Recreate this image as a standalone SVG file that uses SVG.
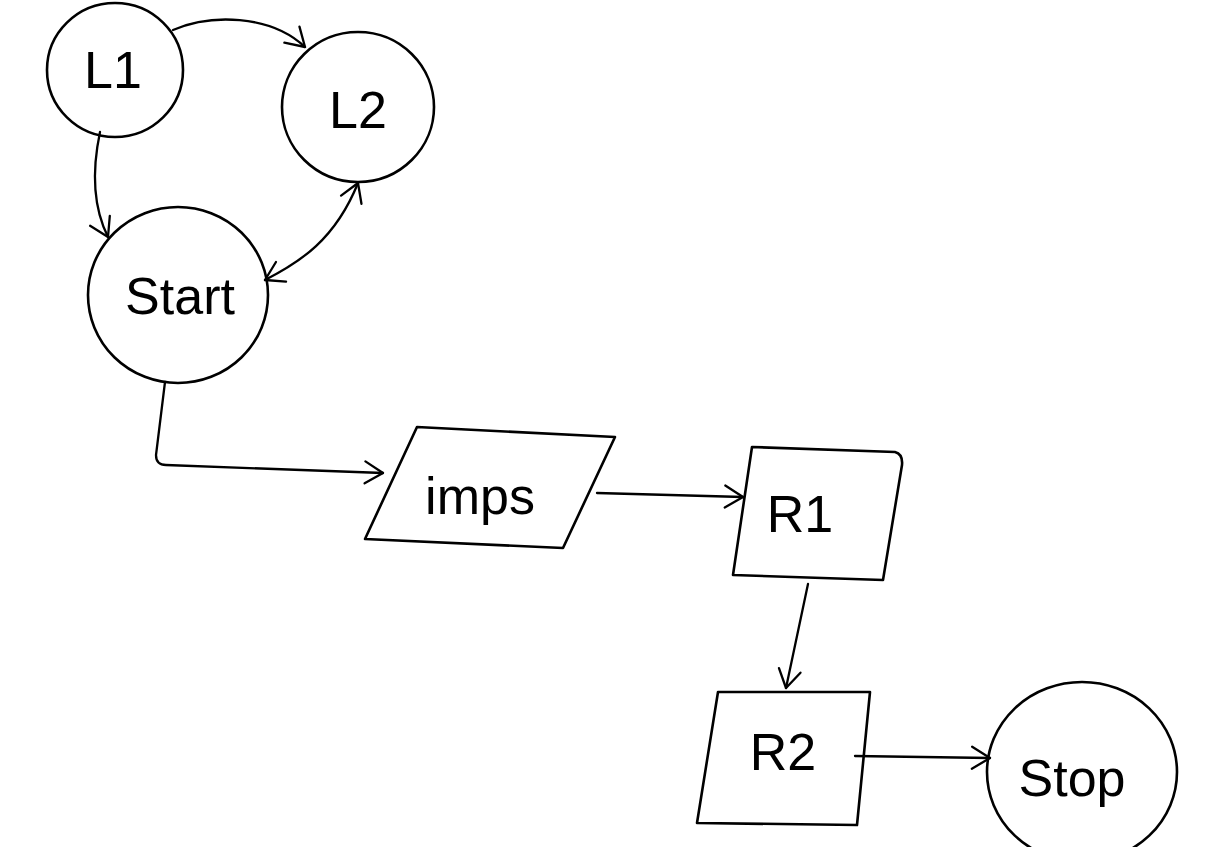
<svg xmlns="http://www.w3.org/2000/svg" width="1215" height="847" viewBox="0 0 1215 847">
<defs>
<style>
.shape{fill:none;stroke:#000;stroke-width:2.6;stroke-linecap:round;stroke-linejoin:round}
.edge{fill:none;stroke:#000;stroke-width:2.3;stroke-linecap:round}
.lbl{font-family:"Liberation Sans",Arial,sans-serif;font-size:52px;fill:#000;text-anchor:middle;dominant-baseline:central}
</style>
<marker id="arr" viewBox="0 0 26 26" refX="24" refY="13" markerWidth="26" markerHeight="26" markerUnits="userSpaceOnUse" orient="auto-start-reverse">
<path d="M6,2 L24,13 L6,24" fill="none" stroke="#000" stroke-width="2.3" stroke-linecap="round" stroke-linejoin="round"/>
</marker>
</defs>
<rect width="1215" height="847" fill="#fff"/>
<g id="connectors">
<path class="edge" d="M173,30 C210,14 270,14 305,47" marker-end="url(#arr)"/>
<path class="edge" d="M100,132 C92,170 92,205 108,237" marker-end="url(#arr)"/>
<path class="edge" d="M265,280 C300,262 335,240 358,183" marker-start="url(#arr)" marker-end="url(#arr)"/>
<path class="edge" d="M165,382 L156,455 Q156,465 166,465 L383,473" marker-end="url(#arr)"/>
<path class="edge" d="M597,493 L743,497" marker-end="url(#arr)"/>
<path class="edge" d="M808,584 L786,688" marker-end="url(#arr)"/>
<path class="edge" d="M855,756 L990,758" marker-end="url(#arr)"/>
</g>
<g id="L1">
<ellipse class="shape" cx="115" cy="70" rx="68" ry="67"/>
<text class="lbl" x="113" y="70">L1</text>
</g>
<g id="L2">
<ellipse class="shape" cx="358" cy="107" rx="76" ry="75"/>
<text class="lbl" x="358" y="110">L2</text>
</g>
<g id="Start">
<ellipse class="shape" cx="178" cy="295" rx="90" ry="88"/>
<text class="lbl" x="180" y="296">Start</text>
</g>
<g id="imps">
<path class="shape" d="M417,427 L615,437 L563,548 L365,539 Z"/>
<text class="lbl" x="480" y="496">imps</text>
</g>
<g id="R1">
<path class="shape" d="M752,447 L895,452 Q903,454 902,465 L883,580 L733,575 Z"/>
<text class="lbl" x="800" y="514">R1</text>
</g>
<g id="R2">
<path class="shape" d="M718,692 L870,692 L857,825 L697,823 Z"/>
<text class="lbl" x="783" y="752">R2</text>
</g>
<g id="Stop">
<ellipse class="shape" cx="1082" cy="772" rx="95" ry="90"/>
<text class="lbl" x="1072" y="778">Stop</text>
</g>
</svg>
